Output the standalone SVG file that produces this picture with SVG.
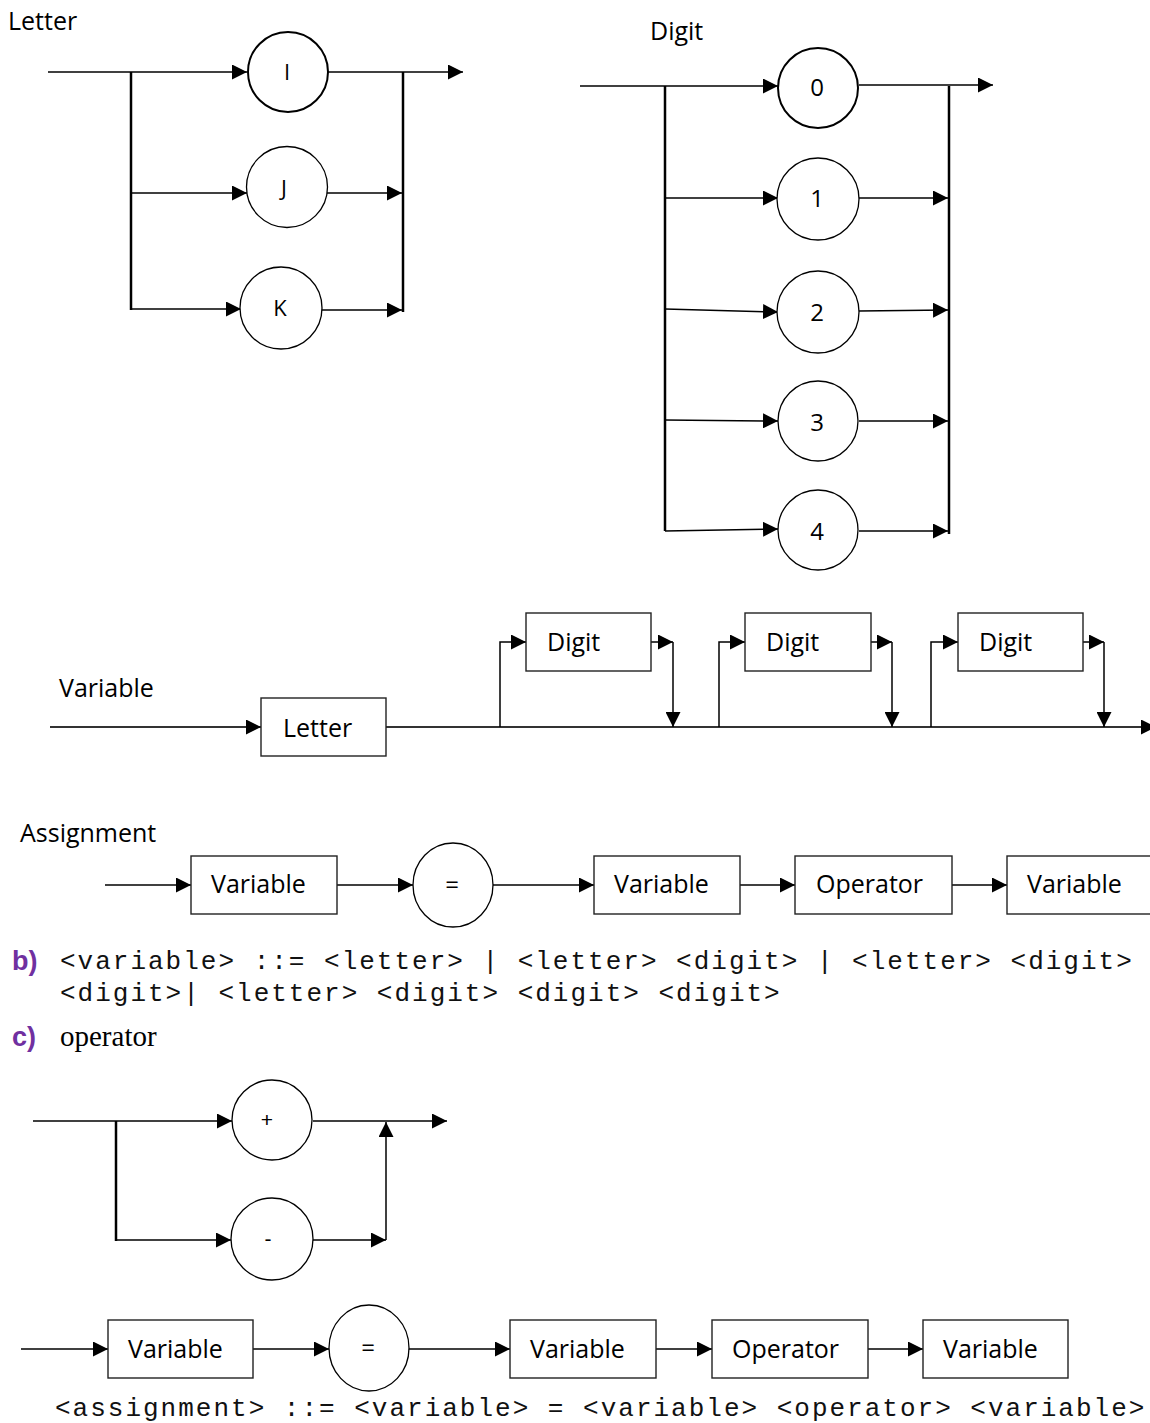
<svg xmlns="http://www.w3.org/2000/svg" width="1150" height="1423" viewBox="0 0 1150 1423">
  <style>
    .bg { fill: #ffffff; }
    .label { font-family: "Open Sans", "Liberation Sans", sans-serif; font-size: 25px; fill: #000; }
    .sym { font-family: "Open Sans", "Liberation Sans", sans-serif; font-size: 24px; fill: #000; text-anchor: middle; }
    .let { font-family: "Open Sans", "Liberation Sans", sans-serif; font-size: 22px; fill: #000; text-anchor: middle; }
    .op { font-family: "Liberation Sans", Arial, sans-serif; font-size: 21px; fill: #000; text-anchor: middle; }
    .node { fill: #fff; stroke: #000; stroke-width: 1.3; }
    .node-bold { fill: #fff; stroke: #000; stroke-width: 2; }
    .box { fill: #fff; stroke: #222; stroke-width: 1.4; }
    .wire { fill: none; stroke: #000; stroke-width: 1.5; }
    .rail { fill: none; stroke: #000; stroke-width: 2.5; }
    .spine { fill: none; stroke: #333; stroke-width: 2; }
    .arrow { marker-end: url(#head); }
    .mono { font-family: "Liberation Mono", "Courier New", monospace; font-size: 26px; letter-spacing: 2px; fill: #111; }
    .tag { font-family: "Liberation Sans", Arial, sans-serif; font-size: 27px; font-weight: bold; fill: #7030A0; }
    .serif { font-family: "Liberation Serif", "Times New Roman", serif; font-size: 29px; fill: #000; }
  </style>
  <defs>
    <marker id="head" markerUnits="userSpaceOnUse" markerWidth="15" markerHeight="15" refX="15" refY="7.5" orient="auto">
      <path d="M0,0 L15,7.5 L0,15 Z" fill="#000"/>
    </marker>
  </defs>

  <rect class="bg" x="0" y="0" width="1150" height="1423"/>

  <!-- section titles -->
  <text class="label" x="8" y="30">Letter</text>
  <text class="label" x="650" y="40">Digit</text>
  <text class="label" x="59" y="697">Variable</text>
  <text class="label" x="20" y="842">Assignment</text>

  <!-- connectors -->
  <g id="connectors">
    <!-- Letter: I | J | K -->
    <line class="wire arrow" x1="48" y1="72" x2="247" y2="72"/>
    <line class="wire arrow" x1="328" y1="72" x2="463" y2="72"/>
    <line class="rail" x1="131" y1="72" x2="131" y2="310"/>
    <line class="rail" x1="403" y1="72" x2="403" y2="312"/>
    <line class="wire arrow" x1="131" y1="193" x2="247" y2="193"/>
    <line class="wire arrow" x1="327" y1="193" x2="402" y2="193"/>
    <line class="wire arrow" x1="131" y1="309" x2="241" y2="309"/>
    <line class="wire arrow" x1="321" y1="310" x2="402" y2="310"/>

    <!-- Digit: 0 .. 4 -->
    <line class="wire arrow" x1="580" y1="86" x2="778" y2="86"/>
    <line class="wire arrow" x1="859" y1="85" x2="993" y2="85"/>
    <line class="rail" x1="665" y1="86" x2="665" y2="531"/>
    <line class="rail" x1="949" y1="86" x2="949" y2="534"/>
    <line class="wire arrow" x1="665" y1="198" x2="778" y2="198"/>
    <line class="wire arrow" x1="859" y1="198" x2="948" y2="198"/>
    <line class="wire arrow" x1="665" y1="309" x2="778" y2="312"/>
    <line class="wire arrow" x1="859" y1="311" x2="948" y2="310"/>
    <line class="wire arrow" x1="665" y1="420" x2="778" y2="421"/>
    <line class="wire arrow" x1="859" y1="421" x2="948" y2="421"/>
    <line class="wire arrow" x1="665" y1="531" x2="778" y2="529"/>
    <line class="wire arrow" x1="859" y1="531" x2="948" y2="531"/>

    <!-- Variable: letter followed by up to three digits -->
    <line class="spine arrow" x1="50" y1="727" x2="261" y2="727"/>
    <line class="spine arrow" x1="386" y1="727" x2="1156" y2="727"/>
    <polyline class="wire arrow" points="500,727 500,642 526,642"/>
    <line class="wire arrow" x1="651" y1="642" x2="673" y2="642"/>
    <line class="wire arrow" x1="673" y1="642" x2="673" y2="727"/>
    <polyline class="wire arrow" points="719,727 719,642 745,642"/>
    <line class="wire arrow" x1="871" y1="642" x2="892" y2="642"/>
    <line class="wire arrow" x1="892" y1="642" x2="892" y2="727"/>
    <polyline class="wire arrow" points="931,727 931,642 958,642"/>
    <line class="wire arrow" x1="1083" y1="642" x2="1104" y2="642"/>
    <line class="wire arrow" x1="1104" y1="642" x2="1104" y2="727"/>

    <!-- Assignment (upper) -->
    <line class="wire arrow" x1="105" y1="885" x2="191" y2="885"/>
    <line class="wire arrow" x1="337" y1="885" x2="413" y2="885"/>
    <line class="wire arrow" x1="493" y1="885" x2="594" y2="885"/>
    <line class="wire arrow" x1="740" y1="885" x2="795" y2="885"/>
    <line class="wire arrow" x1="952" y1="885" x2="1007" y2="885"/>

    <!-- Operator: + | - -->
    <line class="wire arrow" x1="33" y1="1121" x2="232" y2="1121"/>
    <line class="wire arrow" x1="313" y1="1121" x2="447" y2="1121"/>
    <line class="rail" x1="116" y1="1121" x2="116" y2="1241"/>
    <line class="wire arrow" x1="116" y1="1240" x2="231" y2="1240"/>
    <line class="wire arrow" x1="313" y1="1240" x2="386" y2="1240"/>
    <line class="wire arrow" x1="386" y1="1240" x2="386" y2="1122"/>

    <!-- Assignment (lower) -->
    <line class="wire arrow" x1="21" y1="1349" x2="108" y2="1349"/>
    <line class="wire arrow" x1="253" y1="1349" x2="329" y2="1349"/>
    <line class="wire arrow" x1="408" y1="1349" x2="510" y2="1349"/>
    <line class="wire arrow" x1="656" y1="1349" x2="712" y2="1349"/>
    <line class="wire arrow" x1="868" y1="1349" x2="923" y2="1349"/>
  </g>

  <!-- Letter nodes -->
  <g id="letter-I"><circle class="node-bold" cx="288" cy="72" r="40"/><text class="let" x="287" y="80">I</text></g>
  <g id="letter-J"><circle class="node" cx="287" cy="187" r="40.5"/><text class="let" x="284" y="196">J</text></g>
  <g id="letter-K"><circle class="node" cx="281" cy="308" r="41"/><text class="let" x="280" y="316">K</text></g>

  <!-- Digit nodes -->
  <g id="digit-0"><circle class="node-bold" cx="818" cy="88" r="40"/><text class="sym" x="817" y="96">0</text></g>
  <g id="digit-1"><circle class="node" cx="818" cy="199" r="41"/><text class="sym" x="817" y="207">1</text></g>
  <g id="digit-2"><circle class="node" cx="818" cy="312" r="41"/><text class="sym" x="817" y="321">2</text></g>
  <g id="digit-3"><circle class="node" cx="818" cy="421" r="40"/><text class="sym" x="817" y="431">3</text></g>
  <g id="digit-4"><circle class="node" cx="818" cy="530" r="40"/><text class="sym" x="817" y="540">4</text></g>

  <!-- Variable nodes -->
  <g id="var-letter"><rect class="box" x="261" y="698" width="125" height="58"/><text class="label" x="283" y="737">Letter</text></g>
  <g id="var-digit-1"><rect class="box" x="526" y="613" width="125" height="58"/><text class="label" x="547" y="651">Digit</text></g>
  <g id="var-digit-2"><rect class="box" x="745" y="613" width="126" height="58"/><text class="label" x="766" y="651">Digit</text></g>
  <g id="var-digit-3"><rect class="box" x="958" y="613" width="125" height="58"/><text class="label" x="979" y="651">Digit</text></g>

  <!-- Assignment (upper) nodes -->
  <g id="asg-var-1"><rect class="box" x="191" y="856" width="146" height="58"/><text class="label" x="211" y="893">Variable</text></g>
  <g id="asg-eq"><ellipse class="node" cx="453" cy="885" rx="40" ry="42"/><text class="sym" x="452" y="893">=</text></g>
  <g id="asg-var-2"><rect class="box" x="594" y="856" width="146" height="58"/><text class="label" x="614" y="893">Variable</text></g>
  <g id="asg-op"><rect class="box" x="795" y="856" width="157" height="58"/><text class="label" x="816" y="893">Operator</text></g>
  <g id="asg-var-3"><rect class="box" x="1007" y="856" width="145" height="58"/><text class="label" x="1027" y="893">Variable</text></g>

  <!-- BNF text -->
  <g id="bnf-variable">
    <text class="tag" x="12" y="970">b)</text>
    <text class="mono" x="60" y="969" xml:space="preserve">&lt;variable&gt; ::= &lt;letter&gt; | &lt;letter&gt; &lt;digit&gt; | &lt;letter&gt; &lt;digit&gt;</text>
    <text class="mono" x="60" y="1001" xml:space="preserve">&lt;digit&gt;| &lt;letter&gt; &lt;digit&gt; &lt;digit&gt; &lt;digit&gt;</text>
  </g>
  <g id="operator-title">
    <text class="tag" x="12" y="1046">c)</text>
    <text class="serif" x="60" y="1046">operator</text>
  </g>

  <!-- Operator nodes -->
  <g id="op-plus"><circle class="node" cx="272" cy="1120" r="40"/><text class="op" x="267" y="1127">+</text></g>
  <g id="op-minus"><circle class="node" cx="272" cy="1239" r="41"/><text class="op" x="268" y="1246">-</text></g>

  <!-- Assignment (lower) nodes -->
  <g id="asg2-var-1"><rect class="box" x="108" y="1320" width="145" height="58"/><text class="label" x="128" y="1358">Variable</text></g>
  <g id="asg2-eq"><ellipse class="node" cx="369" cy="1348" rx="40" ry="43"/><text class="sym" x="368" y="1356">=</text></g>
  <g id="asg2-var-2"><rect class="box" x="510" y="1320" width="146" height="58"/><text class="label" x="530" y="1358">Variable</text></g>
  <g id="asg2-op"><rect class="box" x="712" y="1320" width="156" height="58"/><text class="label" x="732" y="1358">Operator</text></g>
  <g id="asg2-var-3"><rect class="box" x="923" y="1320" width="145" height="58"/><text class="label" x="943" y="1358">Variable</text></g>

  <g id="bnf-assignment">
    <text class="mono" x="55" y="1416" xml:space="preserve">&lt;assignment&gt; ::= &lt;variable&gt; = &lt;variable&gt; &lt;operator&gt; &lt;variable&gt;</text>
  </g>
</svg>
